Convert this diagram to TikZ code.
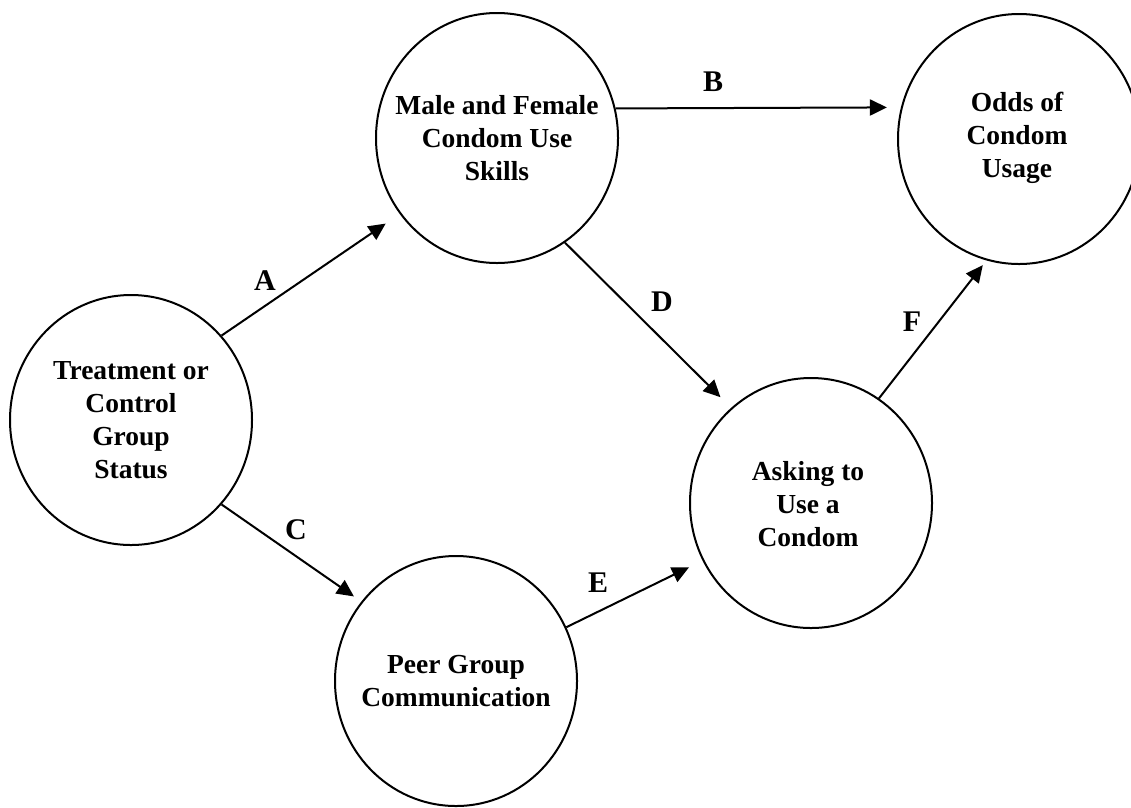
\documentclass[tikz,border=0pt]{standalone}
\usepackage{fontspec}
\setmainfont{Liberation Serif}
\usetikzlibrary{arrows.meta,shapes.geometric}
\begin{document}
\begin{tikzpicture}[x=1pt,y=-1pt,
  bubble/.style={draw, line width=2pt, ellipse, minimum width=242pt, minimum height=250pt, inner sep=0pt},
  bubbletext/.style={align=center, font=\bfseries\fontsize{27.5}{33}\selectfont, inner sep=0pt},
  link/.style={line width=2pt, -{Triangle[length=17pt,width=16pt]}},
  tag/.style={font=\bfseries\fontsize{30}{36}\selectfont, inner sep=0pt}]
\useasboundingbox (0,0) rectangle (1131,807);
\clip (0,0) rectangle (1131,807);

\node[bubble] (treat) at (131,420) {};
\node[bubble] (male) at (497,138) {};
\node[bubble] (odds) at (1019,139) {};
\node[bubble] (ask) at (811,503) {};
\node[bubble] (peer) at (456,681) {};

\node[bubbletext] (treatT) at (treat.center) {Treatment or\\Control\\Group\\Status};
\node[bubbletext] (maleT) at (male.center) {Male and Female\\Condom Use\\Skills};
\node[bubbletext] (oddsT) at (1017,138) {Odds of\\Condom\\Usage};
\node[bubbletext] (askT) at (808,504) {Asking to\\Use a\\Condom};
\node[bubbletext] (peerT) at (peer.center) {Peer Group\\Communication};

\draw[link, shorten >=17pt] (treat.43) -- (male.218);
\draw[link, shorten >=14pt] (male.14) -- (odds.165);
\draw[link, shorten >=9pt] (treat.-43) -- (peer.140);
\draw[link, shorten >=15pt] (male.-57) -- (ask.130);
\draw[link, shorten >=15pt] (peer.26) -- (ask.208);
\draw[link, shorten >=6pt] (ask.57) -- (odds.255);

\node[tag] (labA) at (265,281) {A};
\node[tag] (labB) at (713,82) {B};
\node[tag] (labC) at (296,530) {C};
\node[tag] (labD) at (662,302) {D};
\node[tag] (labE) at (598,583) {E};
\node[tag] (labF) at (912,322) {F};
\end{tikzpicture}
\end{document}
